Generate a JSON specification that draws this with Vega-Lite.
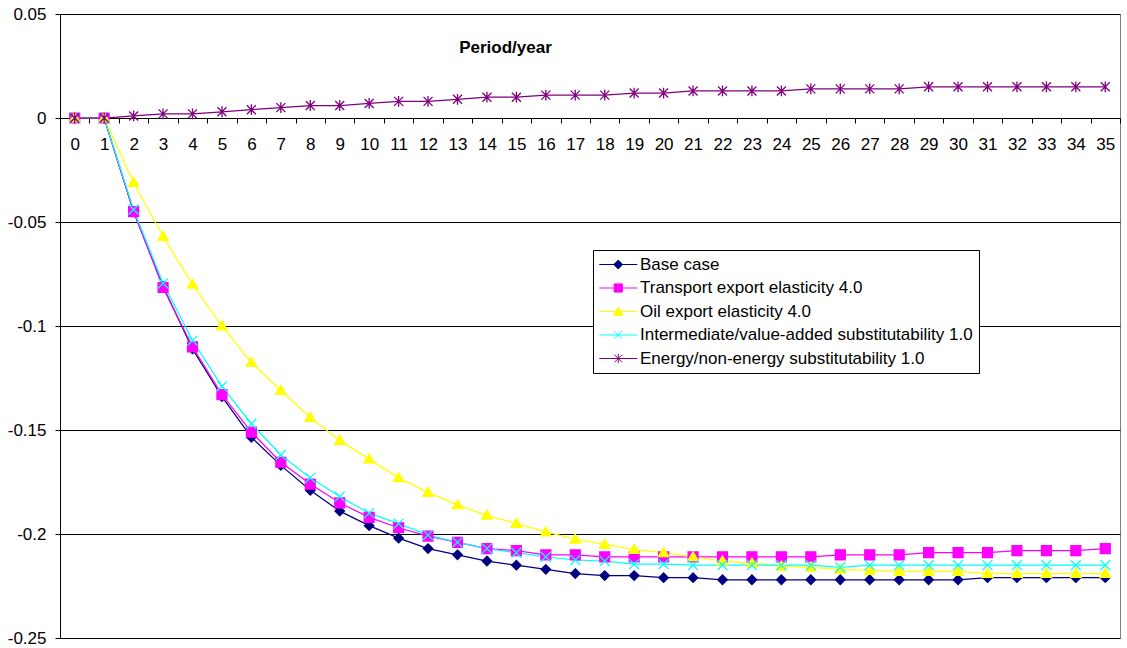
{
  "$schema": "https://vega.github.io/schema/vega-lite/v6.json",
  "width": 1060,
  "height": 624,
  "autosize": {"type": "none"},
  "padding": {"left": 60, "top": 14, "right": 7, "bottom": 10},
  "config": {"font": "Liberation Sans", "view": {"stroke": "#808080", "strokeWidth": 1}},
  "data": {"values": [
    {"t": 0, "base": 0, "transport": 0, "oil": 0, "inter": 0, "energy": 0},
    {"t": 1, "base": 0, "transport": 0, "oil": 0, "inter": 0, "energy": 0},
    {"t": 2, "base": -0.045, "transport": -0.045, "oil": -0.031, "inter": -0.044, "energy": 0.001},
    {"t": 3, "base": -0.081, "transport": -0.0815, "oil": -0.057, "inter": -0.0795, "energy": 0.002},
    {"t": 4, "base": -0.111, "transport": -0.110, "oil": -0.080, "inter": -0.107, "energy": 0.002},
    {"t": 5, "base": -0.134, "transport": -0.133, "oil": -0.100, "inter": -0.129, "energy": 0.003},
    {"t": 6, "base": -0.1535, "transport": -0.151, "oil": -0.1175, "inter": -0.147, "energy": 0.004},
    {"t": 7, "base": -0.167, "transport": -0.1655, "oil": -0.131, "inter": -0.162, "energy": 0.005},
    {"t": 8, "base": -0.179, "transport": -0.176, "oil": -0.144, "inter": -0.173, "energy": 0.006},
    {"t": 9, "base": -0.189, "transport": -0.185, "oil": -0.155, "inter": -0.182, "energy": 0.006},
    {"t": 10, "base": -0.196, "transport": -0.192, "oil": -0.164, "inter": -0.190, "energy": 0.007},
    {"t": 11, "base": -0.202, "transport": -0.197, "oil": -0.173, "inter": -0.195, "energy": 0.008},
    {"t": 12, "base": -0.207, "transport": -0.201, "oil": -0.180, "inter": -0.2005, "energy": 0.008},
    {"t": 13, "base": -0.210, "transport": -0.204, "oil": -0.186, "inter": -0.204, "energy": 0.009},
    {"t": 14, "base": -0.213, "transport": -0.207, "oil": -0.191, "inter": -0.207, "energy": 0.010},
    {"t": 15, "base": -0.215, "transport": -0.208, "oil": -0.195, "inter": -0.209, "energy": 0.010},
    {"t": 16, "base": -0.217, "transport": -0.210, "oil": -0.199, "inter": -0.211, "energy": 0.011},
    {"t": 17, "base": -0.219, "transport": -0.210, "oil": -0.2025, "inter": -0.2125, "energy": 0.011},
    {"t": 18, "base": -0.220, "transport": -0.211, "oil": -0.205, "inter": -0.213, "energy": 0.011},
    {"t": 19, "base": -0.220, "transport": -0.211, "oil": -0.2075, "inter": -0.2145, "energy": 0.012},
    {"t": 20, "base": -0.221, "transport": -0.211, "oil": -0.209, "inter": -0.2145, "energy": 0.012},
    {"t": 21, "base": -0.221, "transport": -0.211, "oil": -0.211, "inter": -0.215, "energy": 0.013},
    {"t": 22, "base": -0.222, "transport": -0.211, "oil": -0.213, "inter": -0.215, "energy": 0.013},
    {"t": 23, "base": -0.222, "transport": -0.211, "oil": -0.214, "inter": -0.215, "energy": 0.013},
    {"t": 24, "base": -0.222, "transport": -0.211, "oil": -0.2155, "inter": -0.215, "energy": 0.013},
    {"t": 25, "base": -0.222, "transport": -0.211, "oil": -0.216, "inter": -0.215, "energy": 0.014},
    {"t": 26, "base": -0.222, "transport": -0.210, "oil": -0.217, "inter": -0.216, "energy": 0.014},
    {"t": 27, "base": -0.222, "transport": -0.210, "oil": -0.2175, "inter": -0.215, "energy": 0.014},
    {"t": 28, "base": -0.222, "transport": -0.210, "oil": -0.218, "inter": -0.215, "energy": 0.014},
    {"t": 29, "base": -0.222, "transport": -0.209, "oil": -0.218, "inter": -0.215, "energy": 0.015},
    {"t": 30, "base": -0.222, "transport": -0.209, "oil": -0.218, "inter": -0.215, "energy": 0.015},
    {"t": 31, "base": -0.221, "transport": -0.209, "oil": -0.219, "inter": -0.215, "energy": 0.015},
    {"t": 32, "base": -0.221, "transport": -0.208, "oil": -0.219, "inter": -0.215, "energy": 0.015},
    {"t": 33, "base": -0.221, "transport": -0.208, "oil": -0.219, "inter": -0.215, "energy": 0.015},
    {"t": 34, "base": -0.221, "transport": -0.208, "oil": -0.219, "inter": -0.215, "energy": 0.015},
    {"t": 35, "base": -0.221, "transport": -0.207, "oil": -0.219, "inter": -0.215, "energy": 0.015}
  ]},
  "transform": [{"fold": ["base", "transport", "oil", "inter", "energy"], "as": ["series", "v"]}],
  "encoding": {
    "x": {
      "field": "t", "type": "ordinal", "bandPosition": 0.5,
      "scale": {"type": "band", "paddingInner": 0, "paddingOuter": 0},
      "axis": {
        "title": "Period/year", "offset": -520, "domainColor": "#000", "tickColor": "#000",
        "tickSize": 5, "tickBand": "extent", "labelAngle": 0, "labelFontSize": 17,
        "labelColor": "#000", "labelPadding": 13, "grid": false,
        "titleFontSize": 17, "titleFontWeight": "bold", "titleColor": "#000",
        "titleX": 445, "titleY": -66, "titleBaseline": "alphabetic", "titleAlign": "center", "titleAnchor": null
      }
    },
    "y": {
      "field": "v", "type": "quantitative",
      "scale": {"domain": [-0.25, 0.05], "nice": false, "zero": false},
      "axis": {
        "values": [0.05, 0, -0.05, -0.1, -0.15, -0.2, -0.25], "title": null, "grid": true,
        "gridColor": "#000", "gridWidth": 1, "domainColor": "#000", "tickColor": "#000",
        "tickSize": 5, "labelFontSize": 17, "labelColor": "#000", "labelPadding": 9,
        "labelExpr": "datum.value == 0 ? '0' : replace(format(datum.value, '.2~f'), '\u2212', '-')"
      }
    }
  },
  "layer": [
    {
      "mark": {"type": "line", "strokeWidth": 1.25},
      "encoding": {
        "color": {
          "field": "series", "type": "nominal",
          "scale": {"domain": ["base", "transport", "oil", "inter", "energy"], "range": ["#000080", "#FF00FF", "#FFFF00", "#00FFFF", "#800080"]},
          "legend": {
            "title": null, "orient": "none", "legendX": 533, "legendY": 236, "padding": 6,
            "strokeColor": "#000", "fillColor": "#fff", "labelFontSize": 17, "labelColor": "#000",
            "labelOffset": 24, "rowPadding": 5.5, "symbolSize": 160, "symbolStrokeWidth": 1, "labelLimit": 600,
            "symbolType": {"expr": "datum.value === 'base' ? 'M-1.3,0H4.7M1.7,-0.7L2.4,0L1.7,0.7L1.0,0Z' : datum.value === 'transport' ? 'M-1.3,0H4.7M1.05,-0.65H2.35V0.65H1.05Z' : datum.value === 'oil' ? 'M-1.3,0H4.7M1.7,-0.7L2.45,0.6H0.95Z' : datum.value === 'inter' ? 'M-1.3,0H4.7M1.1,-0.6L2.3,0.6M2.3,-0.6L1.1,0.6' : 'M-1.3,0H4.7M1.1,-0.6L2.3,0.6M2.3,-0.6L1.1,0.6M1.7,-0.75V0.75'"},
            "labelExpr": "datum.value === 'base' ? 'Base case' : datum.value === 'transport' ? 'Transport export elasticity 4.0' : datum.value === 'oil' ? 'Oil export elasticity 4.0' : datum.value === 'inter' ? 'Intermediate/value-added substitutability 1.0' : 'Energy/non-energy substitutability 1.0'"
          }
        }
      }
    },
    {
      "mark": {"type": "point", "filled": true, "size": 81, "opacity": 1, "strokeWidth": 1.3},
      "encoding": {
        "color": {
          "field": "series", "type": "nominal",
          "scale": {"domain": ["base", "transport", "oil", "inter", "energy"], "range": ["#000080", "#FF00FF", "#FFFF00", "#00FFFF", "#800080"]}
        },
        "stroke": {
          "field": "series", "type": "nominal", "legend": null,
          "scale": {"domain": ["energy", "inter", "oil", "transport", "base"], "range": ["#800080", "#00FFFF", "#FFFF00", "#FF00FF", "#000080"]}
        },
        "shape": {
          "field": "series", "type": "nominal", "legend": null,
          "scale": {"domain": ["energy", "inter", "oil", "transport", "base"], "range": [
            "M-1,-1L1,1M1,-1L-1,1M0,-1.2V1.2",
            "M-1.1,-1.1L1.1,1.1M1.1,-1.1L-1.1,1.1",
            "M0,-1.15L1.15,0.85H-1.15Z",
            "M-1.1,-1.1H1.1V1.1H-1.1Z",
            "M0,-1.05L1.05,0L0,1.05L-1.05,0Z"
          ]}
        }
      }
    }
  ]
}
